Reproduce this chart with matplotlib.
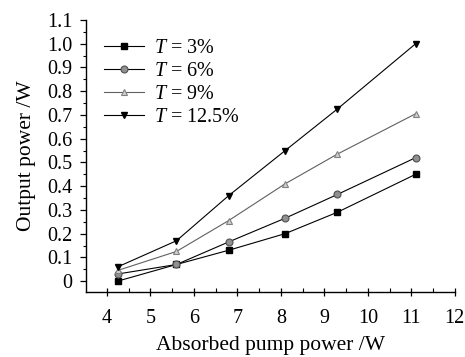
import matplotlib
matplotlib.use("Agg")
import matplotlib.pyplot as plt
from matplotlib.ticker import MultipleLocator

plt.rcParams["font.family"] = ["Liberation Serif", "DejaVu Serif"]
plt.rcParams["mathtext.fontset"] = "custom"
plt.rcParams["mathtext.it"] = "Liberation Serif:italic"
plt.rcParams["mathtext.rm"] = "Liberation Serif"

# absorbed pump power (W)
pump = [4.25, 5.6, 6.8, 8.1, 9.3, 11.1]

# output power (W) per output coupler transmission
out_3 = [0.0, 0.07, 0.13, 0.20, 0.29, 0.45]
out_6 = [0.03, 0.07, 0.165, 0.265, 0.365, 0.52]
out_9 = [0.045, 0.125, 0.255, 0.41, 0.535, 0.705]
out_125 = [0.06, 0.17, 0.36, 0.55, 0.725, 1.0]

labels = ["$T$ = 3%", "$T$ = 6%", "$T$ = 9%", "$T$ = 12.5%"]

fig = plt.figure(figsize=(4.65, 3.57), dpi=100)
ax = fig.add_axes([0.185, 0.182, 0.793, 0.762])

ax.plot(pump, out_3, color="black", lw=0.8, marker="s", ms=4.5,
        mfc="black", mec="black", label=labels[0])
ax.plot(pump, out_6, color="black", lw=0.8, marker="o", ms=5,
        mfc="#909090", mec="#505050", mew=0.8, label=labels[1])
ax.plot(pump, out_9, color="#606060", lw=0.8, marker="^", ms=5,
        mfc="#d0d0d0", mec="#808080", mew=0.8, label=labels[2])
ax.plot(pump, out_125, color="black", lw=0.8, marker="v", ms=5,
        mfc="black", mec="black", label=labels[3])

ax.set_xlim(3.52, 12)
ax.set_ylim(-0.046, 1.1)
ax.xaxis.set_major_locator(MultipleLocator(1))
ax.xaxis.set_minor_locator(MultipleLocator(0.5))
ax.yaxis.set_major_locator(MultipleLocator(0.1))
ax.yaxis.set_minor_locator(MultipleLocator(0.05))
ax.set_xticks(range(4, 13))
ax.set_yticks([0, 0.1, 0.2, 0.3, 0.4, 0.5, 0.6, 0.7, 0.8, 0.9, 1.0, 1.1])
ax.set_yticklabels(["0", "0.1", "0.2", "0.3", "0.4", "0.5", "0.6", "0.7",
                    "0.8", "0.9", "1.0", "1.1"])

for side in ["top", "right"]:
    ax.spines[side].set_visible(False)
for side in ["left", "bottom"]:
    ax.spines[side].set_linewidth(1.0)

ax.tick_params(axis="both", which="major", labelsize=14.5, width=0.9)
ax.tick_params(axis="x", which="major", direction="inout", length=6, pad=9)
ax.tick_params(axis="x", which="minor", direction="in", length=3, width=0.8)
ax.tick_params(axis="y", which="major", direction="out", length=4, pad=6)
ax.tick_params(axis="y", which="minor", direction="out", length=2.5, width=0.8)

ax.set_xlabel("Absorbed pump power /W", fontsize=15.5, labelpad=6)
ax.set_ylabel("Output power /W", fontsize=15.5, labelpad=8)

ax.legend(loc="upper left", bbox_to_anchor=(0.015, 0.975), frameon=False,
          fontsize=14.5, handlelength=2.0, handletextpad=0.5,
          labelspacing=0.2, borderaxespad=0.2)

fig.savefig("out.png", dpi=100)
